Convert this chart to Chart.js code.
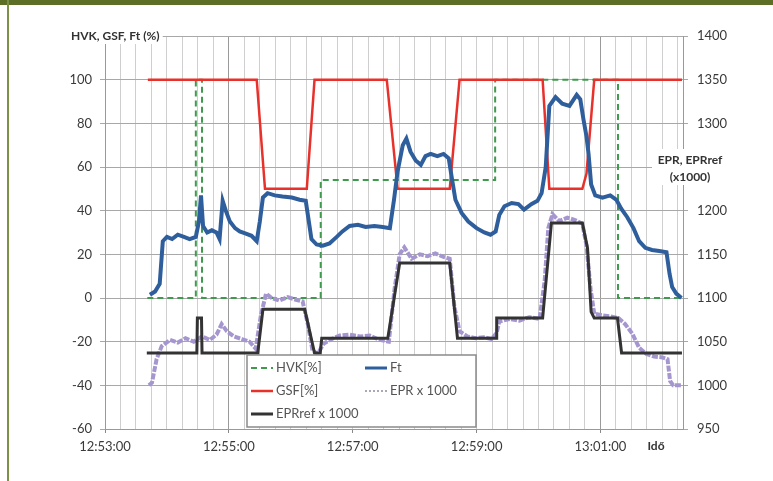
<!DOCTYPE html>
<html>
<head>
<meta charset="utf-8">
<script src="https://cdn.jsdelivr.net/npm/chart.js@4.4.0/dist/chart.umd.min.js"></script>
<style>
  html, body { margin: 0; padding: 0; background: #fff; }
  #wrap { position: relative; width: 773px; height: 481px; overflow: hidden; background: #fff; }
  #chart { position: absolute; left: 0; top: 0; }
  #topbar { position: absolute; left: 0; top: 0; width: 773px; height: 5px; background: #5d6f26; }
  #leftbar { position: absolute; left: 7px; top: 0; width: 2px; height: 481px; background: #7c9046; }
</style>
</head>
<body>
<div id="wrap">
  <canvas id="chart" width="773" height="481"></canvas>
  <div id="topbar"></div>
  <div id="leftbar"></div>
</div>
<script>
// time in seconds after 12:53:00
const timeTicks = [0, 120, 240, 360, 480];
const timeLabels = ['12:53:00', '12:55:00', '12:57:00', '12:59:00', '13:01:00'];

// HVK [%] (left axis)
const hvkTime  = [41, 88, 88, 94, 94, 209, 209, 378, 378, 497, 497, 559];
const hvkValue = [0, 0, 100, 100, 0, 0, 54, 54, 100, 100, 0, 0];

// GSF [%] (left axis)
const gsfTime  = [41.5, 147, 155, 195.5, 203, 273, 283.5, 334, 343.5, 424, 430.5, 462.5, 466.5, 474, 559];
const gsfValue = [100, 100, 50, 50, 100, 100, 50, 50, 100, 100, 50, 50, 57, 100, 100];

// Ft [%] (left axis)
const ftTime = [43.5, 48.5, 53, 56, 60, 65, 70.5, 76.5, 82, 88, 91, 93, 95, 99, 103.5, 108, 111, 114, 117, 121,
  126, 130.5, 136.5, 142, 147, 150, 153, 157.5, 164.5, 172, 181, 188.5, 194.5, 197.5, 200, 205, 211, 217.5, 224.5, 230,
  237, 245, 252.5, 261, 269, 276, 280, 283.5, 288.5, 292, 296, 301, 306, 310.5, 315.5, 322, 328, 333, 336, 339.5,
  345.5, 352, 360, 367.5, 373.5, 378.5, 382, 387, 394, 400.5, 406, 413, 419, 423, 427, 430.5, 436.5, 443, 450, 457,
  460.5, 463.5, 466.5, 468.5, 471, 475, 482, 489.5, 495.5, 500, 506, 512, 517.5, 523.5, 530, 537, 544, 547, 549.5, 553.5, 558.5];
const ftValue = [1.5, 3, 6.5, 26, 28, 27, 29, 28, 27, 28, 35, 47, 33, 30, 31, 30, 27, 44.5, 40, 35,
  32, 30.5, 29.5, 28.5, 26, 35, 46, 48, 47, 46.5, 46, 45, 44.5, 35, 27, 24.5, 24, 25, 28, 30.5,
  33, 33.5, 32.5, 33, 32.5, 32, 45, 58, 70, 73, 67, 63, 61, 65, 66, 65, 66, 64, 55, 45,
  39, 35, 32, 30, 29, 30.5, 38, 42, 43.5, 43, 40.5, 43, 44.5, 48, 60, 88, 92, 89, 88, 93,
  91, 82, 74, 66, 52, 47, 46, 47, 45, 41, 37, 32, 26, 23, 22, 21.5, 21, 11, 5, 2, 0];

// EPR x 1000 (right axis)
const eprTime = [42.5, 45.5, 50, 55, 63, 70.5, 78, 86, 94, 101.5, 108, 113, 118, 125, 132.5, 140, 146, 151, 156, 161.5,
  169, 177, 185, 191.5, 196.5, 201, 206, 212, 219.5, 227.5, 237, 247, 256.5, 266, 275, 280.5, 285.5, 290, 297, 305,
  312.5, 320, 328, 334, 338.5, 343.5, 351, 359, 367, 374.5, 379.5, 382, 392, 401.5, 411, 421, 426, 429.5, 433.5, 440,
  448, 456, 462.5, 466.5, 470.5, 474, 482, 489.5, 497.5, 504, 511, 517.5, 524.5, 532, 540, 545, 547.5, 550.5, 558.5];
const eprValue = [1000, 1003, 1030, 1045, 1052, 1049, 1054, 1050, 1056, 1052, 1058, 1070, 1062, 1056, 1053, 1050, 1042, 1080, 1105, 1100,
  1097, 1101, 1098, 1096, 1070, 1040, 1036, 1048, 1053, 1057, 1058, 1056, 1057, 1052, 1050, 1110, 1150, 1158, 1145, 1150,
  1148, 1151, 1147, 1145, 1090, 1062, 1056, 1054, 1055, 1053, 1060, 1073, 1076, 1074, 1078, 1076, 1120, 1180, 1196, 1188,
  1192, 1189, 1185, 1160, 1110, 1082, 1080, 1079, 1077, 1070, 1059, 1043, 1036, 1033, 1032, 1030, 1005, 1000, 1000];

// EPRref x 1000 (right axis)
const refTime  = [40.5, 89, 89.5, 93.5, 94, 148, 153, 193.5, 203, 208.5, 210, 274, 285.5, 334, 341.5, 379, 379.5, 424,
  432.5, 462.5, 467.5, 471, 474, 496.5, 500.5, 559];
const refValue = [1037, 1037, 1077, 1077, 1037, 1037, 1087, 1087, 1037, 1037, 1054, 1054, 1140, 1140, 1054, 1054, 1077, 1077,
  1186, 1186, 1157, 1084, 1077, 1077, 1037, 1037];

const pts = (xs, ys) => xs.map((x, i) => ({ x: x, y: ys[i] }));

const font = 'Lato, "Open Sans", sans-serif';

const datasets = [
  { label: 'EPRref x 1000', data: pts(refTime, refValue), yAxisID: 'y2',
    borderColor: '#333333', borderWidth: 3 },
  { label: 'EPR x 1000', data: pts(eprTime, eprValue), yAxisID: 'y2',
    borderColor: '#a596cf', borderWidth: 4, borderDash: [6, 1.5] },
  { label: 'Ft', data: pts(ftTime, ftValue), yAxisID: 'y',
    borderColor: '#2f5e9c', borderWidth: 4 },
  { label: 'GSF[%]', data: pts(gsfTime, gsfValue), yAxisID: 'y',
    borderColor: '#e8312b', borderWidth: 2.5 },
  { label: 'HVK[%]', data: pts(hvkTime, hvkValue), yAxisID: 'y',
    borderColor: '#3f9a4d', borderWidth: 2, borderDash: [6, 4] }
];
datasets.forEach(d => { d.pointRadius = 0; d.tension = 0; d.fill = false; });

// legend layout: [dataset label, column, row]
const legendOrder = [['HVK[%]', 0, 0], ['Ft', 1, 0], ['GSF[%]', 0, 1], ['EPR x 1000', 1, 1], ['EPRref x 1000', 0, 2]];

const extraText = {
  id: 'extraText',
  afterDatasetsDraw(chart) {
    const ctx = chart.ctx;
    // legend box
    const L = 247, T = 355, R = 476, B = 427;
    ctx.save();
    ctx.fillStyle = '#fff';
    ctx.fillRect(L, T, R - L, B - T);
    ctx.strokeStyle = '#8a8a8a';
    ctx.lineWidth = 1.5;
    ctx.strokeRect(L, T, R - L, B - T);
    ctx.font = '13px ' + font;
    ctx.textBaseline = 'middle';
    ctx.fillStyle = '#555';
    legendOrder.forEach(([label, col, row]) => {
      const ds = chart.data.datasets.find(d => d.label === label);
      const x0 = col === 0 ? 251 : 365;
      const y = 368 + row * 23;
      const dotted = label === 'EPR x 1000';
      ctx.beginPath();
      ctx.strokeStyle = dotted ? '#8f8aa0' : ds.borderColor;
      ctx.lineWidth = dotted ? 1.5 : Math.min(ds.borderWidth, 3);
      ctx.setLineDash(dotted ? [2, 2] : (ds.borderDash || []));
      ctx.moveTo(x0, y);
      ctx.lineTo(x0 + 22, y);
      ctx.stroke();
      ctx.setLineDash([]);
      ctx.fillText(label, x0 + 25, y);
    });
    ctx.restore();
  },
  afterDraw(chart) {
    const ctx = chart.ctx;
    const ys = chart.scales.y, y2 = chart.scales.y2, xs = chart.scales.x;
    ctx.save();
    ctx.font = 'bold 12px ' + font;
    ctx.textBaseline = 'middle';
    // left axis title
    const t1 = 'HVK, GSF, Ft (%)';
    const ty = ys.getPixelForValue(120);
    const w1 = ctx.measureText(t1).width;
    ctx.fillStyle = '#fff';
    ctx.fillRect(70, ty - 8, w1 + 4, 16);
    ctx.fillStyle = '#333';
    ctx.textAlign = 'left';
    ctx.fillText(t1, 71, ty);
    // right axis title
    const ry = y2.getPixelForValue(1250);
    ctx.fillStyle = '#fff';
    ctx.fillRect(652, ry - 18, 80, 36);
    ctx.fillStyle = '#333';
    ctx.textAlign = 'center';
    ctx.fillText('EPR, EPRref', 690, ry - 7);
    ctx.fillText('(x1000)', 690, ry + 10);
    // time axis title
    ctx.fillText('Idő', xs.right - 27, xs.top + 17);
    ctx.restore();
  }
};

new Chart(document.getElementById('chart'), {
  type: 'line',
  data: { datasets: datasets },
  options: {
    responsive: false,
    animation: false,
    layout: { padding: { left: 0, top: 36, right: 0, bottom: 0 } },
    plugins: { legend: { display: false }, tooltip: { enabled: false } },
    scales: {
      x: {
        type: 'linear',
        min: 0,
        max: 560,
        afterBuildTicks: s => {
          const t = [];
          for (let v = 0; v <= 555; v += 15) t.push({ value: v });
          t.push({ value: 560 });
          s.ticks = t;
        },
        afterFit: s => { s.height = 52; },
        ticks: {
          autoSkip: false,
          maxRotation: 0,
          padding: 6,
          color: '#3a3a3a',
          font: { family: font, size: 13 },
          callback: v => {
            const i = timeTicks.indexOf(v);
            return i >= 0 ? timeLabels[i] : '';
          }
        },
        grid: {
          color: c => (c.tick && (c.tick.value === 120 || c.tick.value === 480)) ? '#9a9a9a' : '#cfcfcf',
          tickColor: c => (c.tick && timeTicks.indexOf(c.tick.value) >= 0) ? '#888' : 'rgba(0,0,0,0)',
          tickLength: 4
        },
        border: { color: '#999' }
      },
      y: {
        position: 'left',
        min: -60,
        max: 120,
        afterFit: s => { s.width = 105; },
        ticks: {
          stepSize: 20,
          padding: 8,
          color: '#3a3a3a',
          font: { family: font, size: 13 },
          callback: v => v === 120 ? '' : v
        },
        grid: { color: '#a8a8a8', tickLength: 5 },
        border: { color: '#999' }
      },
      y2: {
        position: 'right',
        min: 950,
        max: 1400,
        afterFit: s => { s.width = 90; },
        ticks: {
          stepSize: 50,
          padding: 9,
          color: '#3a3a3a',
          font: { family: font, size: 13 },
          callback: v => v === 1250 ? '' : v
        },
        grid: { drawOnChartArea: false, color: '#a8a8a8', tickLength: 5 },
        border: { color: '#999' }
      }
    }
  },
  plugins: [extraText]
});
</script>
</body>
</html>
